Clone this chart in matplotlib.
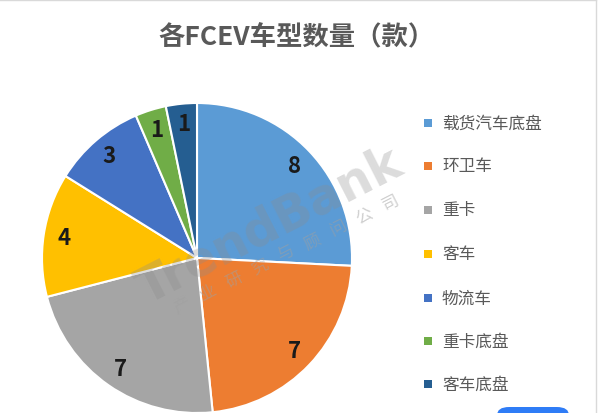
import matplotlib
matplotlib.use("Agg")
from matplotlib import pyplot as plt
from matplotlib.patches import FancyBboxPatch
import numpy as np

plt.rcParams['font.family'] = ['Noto Sans CJK SC', 'DejaVu Sans']

# data
categories = ["载货汽车底盘", "环卫车", "重卡", "客车", "物流车", "重卡底盘", "客车底盘"]
counts = [8, 7, 7, 4, 3, 1, 1]
colors = ["#5B9BD5", "#ED7D31", "#A5A5A5", "#FFC000", "#4472C4", "#70AD47", "#255E91"]
title = "各FCEV车型数量（款）"
watermark = "TrendBank"
watermark_sub = "产业研究与顾问公司"

W, H = 609, 414
fig = plt.figure(figsize=(W / 100, H / 100), dpi=100)

# pie axes: center ~ (197, 259) px, radius ~155 px
r = 155
cx, cy = 197, 259
ax = fig.add_axes([(cx - r) / W, (H - cy - r) / H, 2 * r / W, 2 * r / H])
wedges, texts = ax.pie(counts, colors=colors, startangle=90, counterclock=False,
                       labels=[str(c) for c in counts], labeldistance=0.87,
                       wedgeprops=dict(edgecolor="white", linewidth=1.5),
                       textprops=dict(fontsize=16, fontweight="bold", color="#1a1a1a",
                                      ha="center", va="center"))
ax.set_aspect("equal")
ax.set_xlim(-1, 1)
ax.set_ylim(-1, 1)
ax.axis("off")

# title
fig.text(297 / W, 1 - 38 / H, title, ha="center", va="center",
         fontsize=19, fontweight="bold", color="#595959")

# legend
leg_y = [124, 167, 211, 255, 299, 342, 385]
for name, col, y in zip(categories, colors, leg_y):
    fig.patches.append(plt.Rectangle((424 / W, 1 - (y + 4) / H), 8 / W, 8 / H,
                                     transform=fig.transFigure, facecolor=col,
                                     edgecolor="none"))
    fig.text(442 / W, 1 - y / H, name, ha="left", va="center",
             fontsize=12, color="#595959")

# watermark
fig.text(270 / W, 1 - 226 / H, watermark, ha="center", va="center",
         fontsize=35, fontweight="bold", color="#8c8c8c", alpha=0.3,
         rotation=27, family="DejaVu Sans")
x0, y0, x1, y1 = 182, 306, 390, 203
n = len(watermark_sub)
for k, ch in enumerate(watermark_sub):
    t = k / (n - 1)
    fig.text((x0 + t * (x1 - x0)) / W, 1 - (y0 + t * (y1 - y0)) / H, ch,
             ha="center", va="center", fontsize=12, color="#a0a0a0",
             alpha=0.5, rotation=27)

# frame lines
fig.add_artist(plt.Line2D([0, 596 / W], [1 - 1 / H, 1 - 1 / H], transform=fig.transFigure,
                          color="#d9d9d9", linewidth=1))
fig.add_artist(plt.Line2D([596 / W, 596 / W], [0, 1 - 1 / H], transform=fig.transFigure,
                          color="#d9d9d9", linewidth=1))

# blue button fragment at bottom right
fig.patches.append(FancyBboxPatch((497 / W, -10 / H), 72 / W, 16 / H,
                                  boxstyle="round,pad=0,rounding_size=0.02",
                                  transform=fig.transFigure, facecolor="#2f7cf6",
                                  edgecolor="none"))

fig.savefig("out.png", dpi=100, facecolor="white")
